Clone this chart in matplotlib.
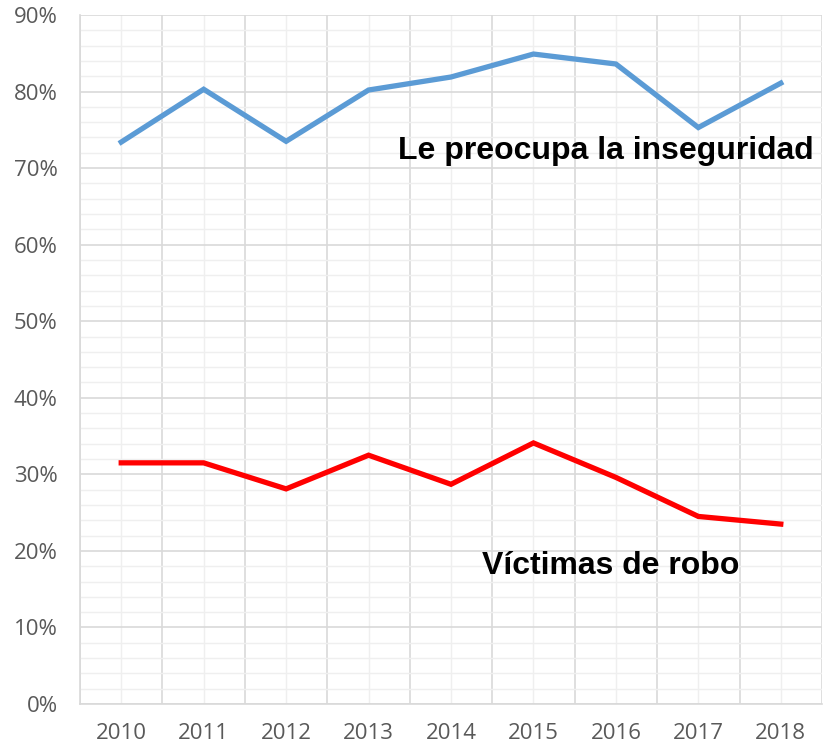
import numpy as np
import matplotlib.pyplot as plt
from matplotlib.ticker import MultipleLocator, FixedLocator, PercentFormatter

years = ['2010', '2011', '2012', '2013', '2014', '2015', '2016', '2017', '2018']
preocupa = [73.4, 80.3, 73.5, 80.2, 81.9, 84.9, 83.6, 75.3, 81.1]
robo = [31.5, 31.5, 28.1, 32.5, 28.7, 34.1, 29.6, 24.5, 23.5]

fig = plt.figure(figsize=(8.27, 7.45), dpi=100)
ax = fig.add_axes([80 / 827, 41 / 745, 742 / 827, 689 / 745])

x = np.arange(len(years))
ax.plot(x, preocupa, color='#5B9BD5', lw=3.8, solid_joinstyle='miter', zorder=3)
ax.plot(x, robo, color='#FF0000', lw=3.8, solid_joinstyle='miter', zorder=3)

ax.set_xlim(-0.5, len(years) - 0.5)
ax.set_ylim(0, 90)
ax.set_xticks(x)
ax.set_xticklabels(years)
ax.yaxis.set_major_locator(MultipleLocator(10))
ax.yaxis.set_minor_locator(MultipleLocator(2))
ax.yaxis.set_major_formatter(PercentFormatter(decimals=0))
ax.xaxis.set_minor_locator(FixedLocator(np.arange(-0.5, len(years), 1.0)))

# grid: category boundaries darker, centres lighter
ax.grid(which='minor', axis='y', color='#efefef', lw=1)
ax.grid(which='major', axis='y', color='#d9d9d9', lw=1.2)
ax.grid(which='major', axis='x', color='#efefef', lw=1)
ax.grid(which='minor', axis='x', color='#d9d9d9', lw=1.2)
ax.set_axisbelow(True)

for s in ['top', 'right']:
    ax.spines[s].set_visible(False)
for s in ['left', 'bottom']:
    ax.spines[s].set_color('#d9d9d9')
    ax.spines[s].set_linewidth(1.2)

ax.tick_params(which='both', length=0)
ax.tick_params(axis='x', labelsize=16, labelcolor='#595959', pad=14)
ax.tick_params(axis='y', labelsize=16, labelcolor='#595959', pad=16)
for lab in ax.get_xticklabels() + ax.get_yticklabels():
    lab.set_family('Open Sans')

ax.text(3.36, 72.3, 'Le preocupa la inseguridad', fontsize=23, fontweight='bold',
        family='Liberation Sans', va='center', ha='left')
ax.text(4.37, 18.0, 'Víctimas de robo', fontsize=23, fontweight='bold',
        family='Liberation Sans', va='center', ha='left')

fig.savefig('out.png', dpi=100)
